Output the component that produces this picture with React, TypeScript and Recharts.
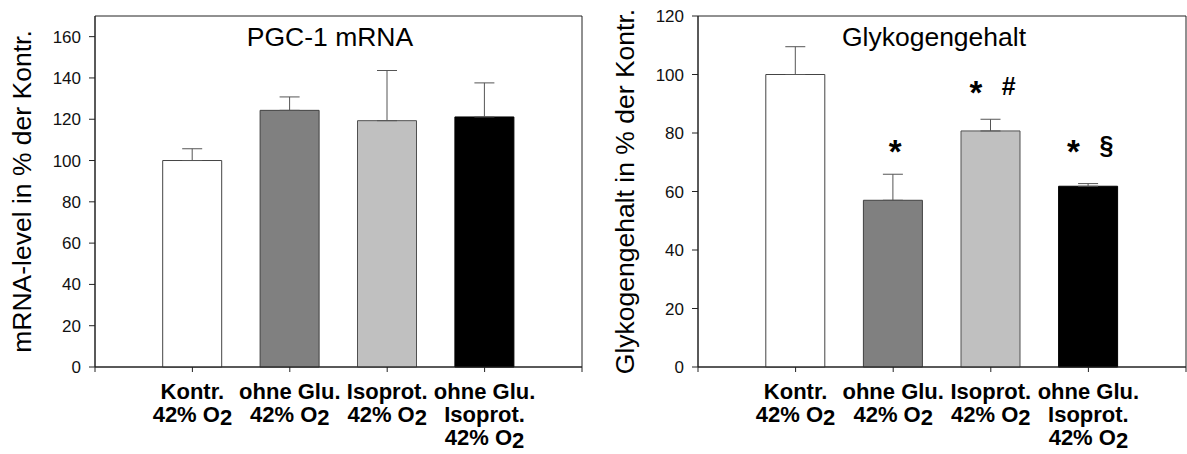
import React from "react";
import {
  BarChart,
  Bar,
  Cell,
  XAxis,
  YAxis,
  ErrorBar,
  ReferenceArea,
  ReferenceDot,
} from "recharts";

// groups, shared by both panels (last line gets an O2 subscript)
const categories: string[][] = [
  ["Kontr.", "42% O2"],
  ["ohne Glu.", "42% O2"],
  ["Isoprot.", "42% O2"],
  ["ohne Glu.", "Isoprot.", "42% O2"],
];
const barFills = ["#ffffff", "#808080", "#c0c0c0", "#000000"];
const barStrokes = ["#444444", "#404040", "#505050", "#000000"];

// left panel: PGC-1 mRNA
const pgcValues = [100, 124.3, 119.3, 121.1];
const pgcErrors = [5.7, 6.5, 24.3, 16.5];
const pgcTicks = [0, 20, 40, 60, 80, 100, 120, 140, 160];

// right panel: Glykogengehalt
const glyValues = [100, 57.0, 80.7, 61.8];
const glyErrors = [9.5, 8.9, 4.0, 0.9];
const glyTicks = [0, 20, 40, 60, 80, 100, 120];
// significance marks and the level they sit at
const glyMarks: string[][] = [[], ["*"], ["*", "#"], ["*", "§"]];
const glyMarkLevels = [0, 76, 96, 76];

const FONT = "'Liberation Sans', Arial, Helvetica, sans-serif";
const xTicks = [0, 1, 2, 3, 4, 5];

function CategoryTick(props: any) {
  const { x, y, payload } = props;
  const lines = categories[payload.value - 1];
  if (!lines) return null;
  return (
    <g>
      {lines.map((line, i) => {
        const sub = line.endsWith("O2");
        const main = sub ? line.slice(0, -1) : line;
        return (
          <text
            key={i}
            x={x}
            y={y + 25 + i * 23}
            textAnchor="middle"
            fontFamily={FONT}
            fontSize={22}
            fontWeight="bold"
            fill="#000"
          >
            {main}
            {sub && <tspan dy={3}>2</tspan>}
          </text>
        );
      })}
    </g>
  );
}

function MarkShape({ cx, cy, marks }: any) {
  const syms: string[] = marks;
  return (
    <g fontFamily={FONT} fontWeight="bold" fill="#000">
      {syms.map((s, i) => {
        const dx = syms.length === 1 ? 2 : i === 0 ? -15 : 18;
        if (s === "*") {
          return (
            <text key={i} x={cx + dx} y={cy + 18} textAnchor="middle" fontSize={33}>
              {s}
            </text>
          );
        }
        return (
          <text
            key={i}
            x={cx + dx}
            y={cy}
            textAnchor="middle"
            dominantBaseline="central"
            fontSize={25}
          >
            {s}
          </text>
        );
      })}
    </g>
  );
}

interface PanelProps {
  title: string;
  titleX: number;
  yLabel: string;
  yLabelX: number;
  values: number[];
  errors: number[];
  ticks: number[];
  yMax: number;
  width: number;
  axisWidth: number;
  marginRight: number;
  marks?: string[][];
  markLevels?: number[];
}

function Panel(p: PanelProps) {
  const data = p.values.map((v, i) => ({
    pos: i + 1,
    value: v,
    err: [0, p.errors[i]],
  }));
  const midY = (16 + 367) / 2;

  return (
    <BarChart
      width={p.width}
      height={454}
      data={data}
      margin={{ top: 16, right: p.marginRight, bottom: 0, left: 0 }}
    >
      <XAxis
        dataKey="pos"
        type="number"
        domain={[0, 5]}
        ticks={xTicks}
        height={87}
        tick={<CategoryTick />}
        tickSize={5}
        tickLine={{ stroke: "#222" }}
        axisLine={{ stroke: "#222" }}
      />
      <YAxis
        type="number"
        domain={[0, p.yMax]}
        ticks={p.ticks}
        width={p.axisWidth}
        tickSize={6}
        tickMargin={8}
        tick={{ fontSize: 17, fill: "#111", fontFamily: FONT }}
        tickLine={{ stroke: "#222" }}
        axisLine={{ stroke: "#222" }}
      />
      <ReferenceArea
        x1={0}
        x2={5}
        y1={0}
        y2={p.yMax}
        fill="none"
        stroke="#222"
        strokeWidth={1}
      />
      <Bar dataKey="value" barSize={59} isAnimationActive={false}>
        {data.map((_, i) => (
          <Cell key={i} fill={barFills[i]} stroke={barStrokes[i]} strokeWidth={1} />
        ))}
        <ErrorBar
          dataKey="err"
          direction="y"
          width={10}
          stroke="#555"
          strokeWidth={1}
          isAnimationActive={false}
        />
      </Bar>
      {p.marks &&
        p.marks.map((m, i) =>
          m.length ? (
            <ReferenceDot
              key={i}
              x={i + 1}
              y={p.markLevels![i]}
              r={0}
              shape={(s: any) => <MarkShape cx={s.cx} cy={s.cy} marks={m} />}
            />
          ) : null
        )}
      <text
        x={p.titleX}
        y={46}
        textAnchor="middle"
        fontFamily={FONT}
        fontSize={26.5}
        fill="#000"
      >
        {p.title}
      </text>
      <text
        x={p.yLabelX}
        y={midY}
        transform={`rotate(-90, ${p.yLabelX}, ${midY})`}
        textAnchor="middle"
        dominantBaseline="central"
        fontFamily={FONT}
        fontSize={26.5}
        fill="#000"
      >
        {p.yLabel}
      </text>
    </BarChart>
  );
}

export default function App() {
  return (
    <div
      style={{
        position: "absolute",
        left: 0,
        top: 0,
        width: 1187,
        height: 454,
        background: "#fff",
        display: "flex",
        fontFamily: FONT,
      }}
    >
      <Panel
        title="PGC-1 mRNA"
        titleX={330}
        yLabel="mRNA-level in % der Kontr."
        yLabelX={22}
        values={pgcValues}
        errors={pgcErrors}
        ticks={pgcTicks}
        yMax={170}
        width={595}
        axisWidth={95}
        marginRight={13}
      />
      <Panel
        title="Glykogengehalt"
        titleX={339}
        yLabel="Glykogengehalt in % der Kontr."
        yLabelX={30}
        values={glyValues}
        errors={glyErrors}
        ticks={glyTicks}
        yMax={120}
        width={592}
        axisWidth={103}
        marginRight={1}
        marks={glyMarks}
        markLevels={glyMarkLevels}
      />
    </div>
  );
}
